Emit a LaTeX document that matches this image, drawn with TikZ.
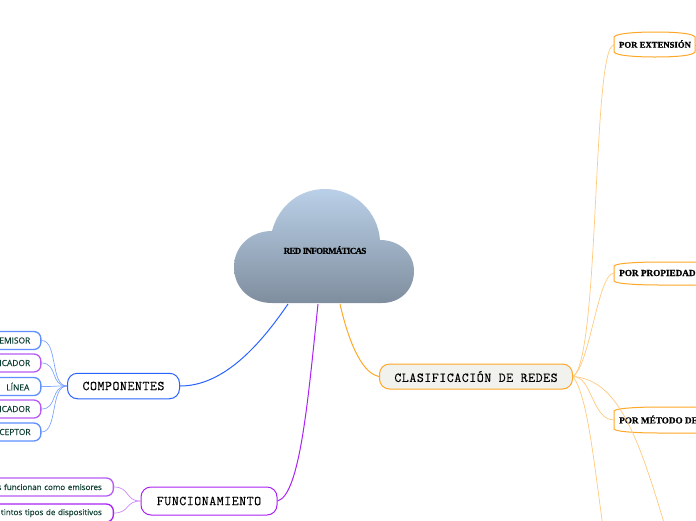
\documentclass[tikz,border=0pt]{standalone}
\usepackage{fontspec}
\setmainfont{Liberation Serif}
\newfontfamily\leaffont{Open Sans}
\newfontfamily\branchfont{Latin Modern Mono}[LetterSpace=4,FakeBold=0.3]
\usetikzlibrary{calc}
\definecolor{cloudtop}{HTML}{BAD0E8}
\definecolor{cloudbot}{HTML}{7F8E9E}
\definecolor{netblue}{HTML}{2962FF}
\definecolor{netpurple}{HTML}{AA22F5}
\definecolor{netorange}{HTML}{FFA726}
\definecolor{leafblue}{HTML}{5F8FFF}
\definecolor{leafpurple}{HTML}{B85AF5}
\definecolor{leafink}{HTML}{0E3F33}
\definecolor{branchbg}{HTML}{F1F2ED}

\begin{document}
\begin{tikzpicture}[
  x=1pt, y=-1pt,
  branch/.style={line width=1pt, rounded corners=10pt, inner sep=0pt, text=black,
    font=\branchfont\fontsize{13.5}{14}\selectfont},
  leaf/.style={line width=1.3pt, rounded corners=7pt, fill=white, inner ysep=0pt, inner xsep=11.5pt,
    text width=#1, align=right, minimum height=18pt, anchor=east, text=leafink,
    font=\leaffont\fontsize{8.4}{10}\selectfont\addfontfeature{FakeBold=0.2}},
  longleaf/.style={leaf=#1, font=\leaffont\fontsize{8}{10}\selectfont\addfontfeature{FakeBold=0.2}},
  title/.style={inner sep=0pt, text=black, font=\bfseries\fontsize{9.2}{10}\selectfont\addfontfeature{FakeBold=0.8}},
  rootedge/.style={line width=1pt},
  leafedge/.style={line width=0.7pt},
  subedge/.style={netorange!60, line width=0.7pt},
  subbox/.style={netorange, line width=1pt, fill=white},
]
\useasboundingbox (0,0) rectangle (696,520);
\clip (0,0) rectangle (696,520);

% ===== Branches =====
\node[branch, draw=netblue, fill=white, minimum width=112pt, minimum height=25.5pt] (comp) at (123.5,386) {COMPONENTES};
\node[branch, draw=netpurple, fill=white, minimum width=136pt, minimum height=28pt] (func) at (209,501) {FUNCIONAMIENTO};
\node[branch, draw=netorange, fill=branchbg, minimum width=193pt, minimum height=25pt] (clas) at (476,376.5) {CLASIFICACIÓN DE REDES};

% ===== Leaves of the left side =====
\node[leaf=30pt, draw=leafblue] (emisor) at (41.5,340.5) {EMISOR};
\node[leaf=30pt, draw=leafpurple] (cod) at (41.5,363) {ICADOR};
\node[leaf=30pt, draw=leafblue] (linea) at (41.5,386.5) {LÍNEA};
\node[leaf=30pt, draw=leafpurple] (decod) at (41.5,409) {ICADOR};
\node[leaf=30pt, draw=leafblue] (recep) at (41.5,432) {CEPTOR};
\node[longleaf=140pt, draw=leafpurple] (disp) at (114,487) {s funcionan como emisores};
\node[longleaf=140pt, draw=netpurple] (tipos) at (114,513) {tintos tipos de dispositivos};

% ===== Free ends on the right =====
\coordinate (extin) at (614,45);
\coordinate (propin) at (614,273);
\coordinate (metin) at (614,420);
\coordinate (offa) at (608,560);
\coordinate (offb) at (672,550);
\coordinate (offc) at (702,45);
\coordinate (extout) at (695,45);

% ===== Connectors =====
\coordinate (cloudb) at (288,304);
\coordinate (cloudp) at (318,304);
\coordinate (cloudo) at (340,304);
\draw[rootedge, netblue] (cloudb) .. controls (250,360) and (215,386) .. (comp.east);
\draw[rootedge, netpurple] (cloudp) .. controls (308,400) and (300,495) .. (func.east);
\draw[rootedge, netorange] (cloudo) .. controls (347,335) and (360,373) .. (clas.west);

\foreach \n in {emisor,cod,linea,decod,recep}
  \draw[leafedge, leafblue!80] (comp.west) .. controls (50,386) and (58,0|-\n.east) .. (\n.east);
\foreach \n in {disp,tipos}
  \draw[leafedge, leafpurple!70] (func.west) .. controls (125,501) and (130,0|-\n.east) .. (\n.east);

\draw[subedge] (clas.east) .. controls (600,360) and (592,45) .. (extin);
\draw[subedge] (clas.east) .. controls (590,365) and (598,273) .. (propin);
\draw[subedge] (clas.east) .. controls (592,376) and (592,420) .. (metin);
\draw[subedge] (clas.east) .. controls (590,400) and (595,480) .. (offa);
\draw[netorange, line width=1pt] (extout) -- (offc);

% ===== Frames of the nodes on the right =====
\draw[subbox] (614,37) .. controls (616,33) and (640,32) .. (655,32) .. controls (672,32) and (693,33) .. (695,37)
  -- (695,52) .. controls (693,56) and (672,57) .. (655,57) .. controls (640,57) and (616,56) .. (614,52) -- cycle;
\draw[subbox] (614,266) .. controls (616,263) and (640,262) .. (660,262) -- (720,262) -- (720,285) -- (660,285) .. controls (640,285) and (616,284) .. (614,281) -- cycle;
\draw[subbox] (614,411) .. controls (616,408) and (640,407) .. (660,407) -- (720,407) -- (720,433) -- (660,433) .. controls (640,433) and (616,432) .. (614,429) -- cycle;
\node[title, font=\bfseries\fontsize{8.7}{10}\selectfont\addfontfeature{FakeBold=0.8}] (ext) at (655,44) {POR EXTENSIÓN};
\node[title, anchor=west] (prop) at (619,273) {POR PROPIEDAD};
\node[title, anchor=west] (metodo) at (619,419.5) {POR MÉTODO DE};
\draw[subedge] (clas.east) .. controls (620,380) and (640,440) .. (offb);

% ===== Cloud =====
\draw[top color=cloudtop, bottom color=cloudbot, draw=none]
  (272,231) .. controls (279,205) and (300,189) .. (325,189)
  .. controls (355,189) and (378,212) .. (380,240)
  .. controls (400,240) and (414,254) .. (414,271)
  .. controls (414,290) and (400,303) .. (382,303)
  -- (272,303)
  .. controls (250,303) and (234,288) .. (234,267)
  .. controls (234,247) and (250,231) .. (272,231) -- cycle;
\node[title, font=\bfseries\fontsize{9}{10}\selectfont\addfontfeature{FakeBold=0.8,LetterSpace=-8}] (root) at (325,250) {RED INFORMÁTICAS};

\end{tikzpicture}
\end{document}
